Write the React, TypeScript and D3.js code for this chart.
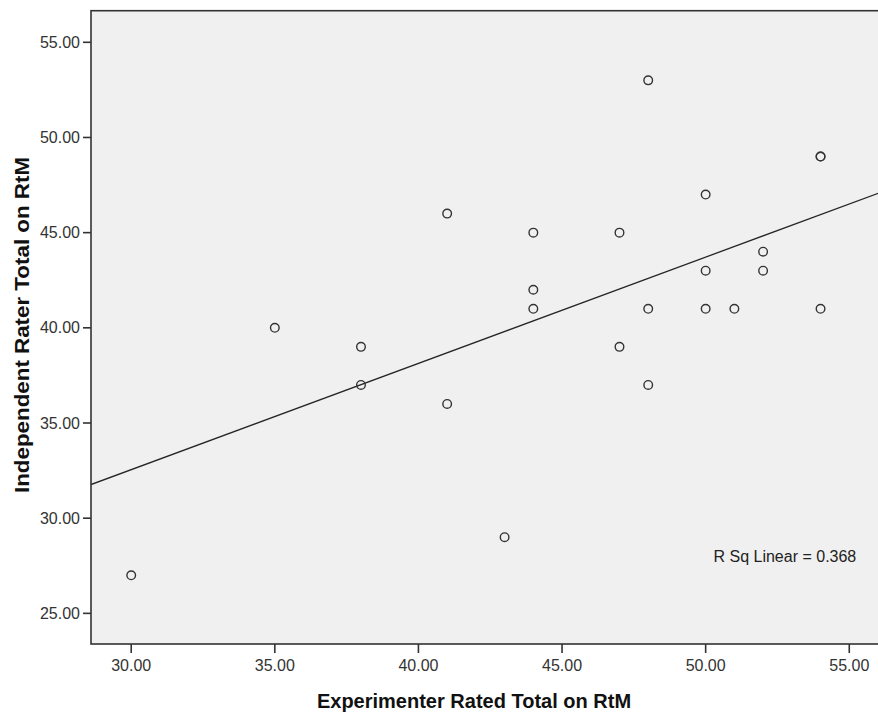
import React from "react";
import * as d3 from "d3";

// Experimenter rated total (x) and Independent rater total (y)
const experimenterTotals = [30, 35, 38, 38, 41, 41, 43, 44, 44, 44, 47, 47, 48, 48, 48, 50, 50, 50, 51, 52, 52, 54, 54, 54];
const independentTotals = [27, 40, 39, 37, 46, 36, 29, 45, 42, 41, 45, 39, 53, 41, 37, 47, 43, 41, 41, 44, 43, 49, 49, 41];
const xTicks = [30, 35, 40, 45, 50, 55];
const yTicks = [25, 30, 35, 40, 45, 50, 55];
const xTitle = "Experimenter Rated Total on RtM";
const yTitle = "Independent Rater Total on RtM";

const W = 878;
const H = 713;
const L = 91;
const T = 10.7;
const B = 644;
const R = 880;

export default function App() {
  const x = d3.scaleLinear().domain([28.6, 56.07]).range([L, R]);
  const y = d3.scaleLinear().domain([23.39, 56.66]).range([B, T]);

  const pts = experimenterTotals.map((v, i) => ({ x: v, y: independentTotals[i] }));
  const mx = d3.mean(pts, (d) => d.x)!;
  const my = d3.mean(pts, (d) => d.y)!;
  const sxy = d3.sum(pts, (d) => (d.x - mx) * (d.y - my));
  const sxx = d3.sum(pts, (d) => (d.x - mx) * (d.x - mx));
  const syy = d3.sum(pts, (d) => (d.y - my) * (d.y - my));
  const slope = sxy / sxx;
  const icpt = my - slope * mx;
  const r2 = (sxy * sxy) / (sxx * syy);
  const [x0, x1] = x.domain();
  const line = d3.line<number>().x((v) => x(v)).y((v) => y(icpt + slope * v));

  const font = "'Liberation Sans', Arial, sans-serif";

  return (
    <svg width={W} height={H} style={{ position: "absolute", left: 0, top: 0, background: "#fff" }}>
      <defs>
        <clipPath id="plotclip">
          <rect x={L} y={T} width={R - L} height={B - T} />
        </clipPath>
      </defs>
      <rect x={L} y={T} width={R - L} height={B - T} fill="#f0f0f0" />
      <g clipPath="url(#plotclip)">
        <path d={line([x0, x1])!} fill="none" stroke="#262626" strokeWidth={1.3} />
        {pts.map((d, i) => (
          <circle key={i} cx={x(d.x)} cy={y(d.y)} r={4.3} fill="none" stroke="#333" strokeWidth={1.4} />
        ))}
        <text x={x(55) + 7} y={y(28)} dy="0.35em" textAnchor="end" fontFamily={font} fontSize={16} fill="#222">
          {`R Sq Linear = ${r2.toFixed(3)}`}
        </text>
      </g>
      <rect x={L} y={T} width={R - L} height={B - T} fill="none" stroke="#333" strokeWidth={1.6} />
      {yTicks.map((t) => (
        <g key={"y" + t}>
          <line x1={L - 8} x2={L} y1={y(t)} y2={y(t)} stroke="#333" strokeWidth={1.6} />
          <text x={L - 11} y={y(t)} dy="0.35em" textAnchor="end" fontFamily={font} fontSize={16} fill="#333">
            {t.toFixed(2)}
          </text>
        </g>
      ))}
      {xTicks.map((t) => (
        <g key={"x" + t}>
          <line x1={x(t)} x2={x(t)} y1={B} y2={B + 9} stroke="#333" strokeWidth={1.6} />
          <text x={x(t)} y={671} textAnchor="middle" fontFamily={font} fontSize={16} fill="#333">
            {t.toFixed(2)}
          </text>
        </g>
      ))}
      <text x={474} y={708} textAnchor="middle" fontFamily={font} fontSize={20} fontWeight="bold" fill="#111">
        {xTitle}
      </text>
      <text
        transform={`translate(29, 325) rotate(-90)`}
        textAnchor="middle"
        fontFamily={font}
        fontSize={20}
        fontWeight="bold"
        fill="#111"
        textLength={336}
        lengthAdjust="spacingAndGlyphs"
      >
        {yTitle}
      </text>
    </svg>
  );
}
